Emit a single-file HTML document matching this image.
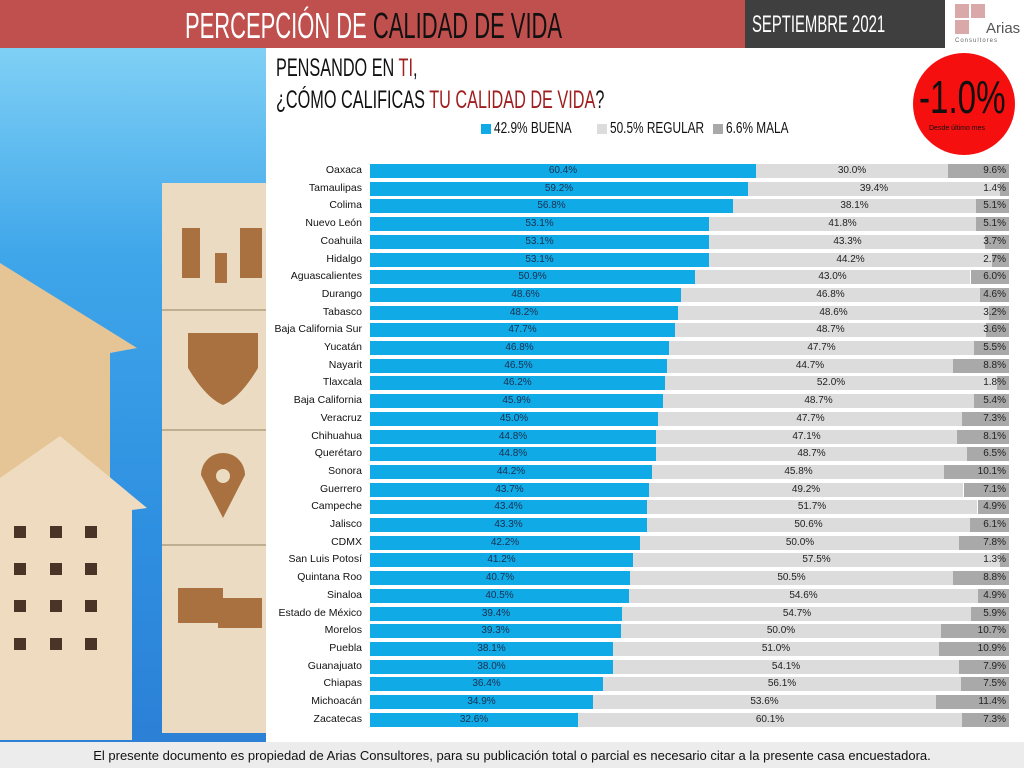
<!DOCTYPE html>
<html><head><meta charset="utf-8">
<style>
*{margin:0;padding:0;box-sizing:border-box}
body{width:1024px;height:768px;overflow:hidden;background:#fff;font-family:"Liberation Sans",sans-serif;position:relative}
.abs{position:absolute}
.narrow{font-family:"Liberation Sans Narrow","Liberation Sans",sans-serif;transform-origin:left top}
#rows{position:absolute;left:0;top:162px;width:1024px}
.r{position:relative;height:17.71px}
.r .l{position:absolute;right:662px;top:2px;font-size:10.5px;color:#111;white-space:nowrap}
.r .b{position:absolute;left:370px;top:2px;height:14px;background:#10aae6;font-size:10px;color:#1c2f4f;text-align:center;line-height:14px}
.r .g{position:absolute;top:2px;height:14px;background:#dcdcdc;font-size:10px;color:#222;text-align:center;line-height:14px}
.r .m{position:absolute;right:15px;top:2px;height:14px;background:#a9a9a9;font-size:0}
.r .mt{position:absolute;right:18px;top:2px;font-size:10px;color:#222;line-height:14px}
</style></head><body>
<div class="abs" style="left:0;top:0;width:745px;height:48px;background:#c0504d"></div>
<div class="abs" style="left:745px;top:0;width:200px;height:48px;background:#3f3f3f"></div>
<div class="abs narrow" style="left:185px;top:5px;font-size:36px;color:#fff;transform:scaleX(0.61);white-space:nowrap">PERCEPCIÓN DE <span style="color:#111">CALIDAD DE VIDA</span></div>
<div class="abs narrow" style="left:752px;top:11px;font-size:24px;color:#fff;transform:scaleX(0.62);white-space:nowrap">SEPTIEMBRE 2021</div>
<div class="abs" style="left:955px;top:4px;width:14px;height:14px;background:#d9a8a8"></div>
<div class="abs" style="left:971px;top:4px;width:14px;height:14px;background:#d9a8a8"></div>
<div class="abs" style="left:955px;top:20px;width:14px;height:14px;background:#d9a8a8"></div>
<div class="abs" style="left:986px;top:20px;font-size:15px;color:#555">Arias</div>
<div class="abs" style="left:955px;top:38px;font-size:6px;color:#666;letter-spacing:1px">Consultores</div>

<div class="abs" style="left:0;top:48px;width:266px;height:694px;background:linear-gradient(180deg,#7fd0f5 0%,#3fa6ea 30%,#2e8fe0 70%,#2c80d6 100%)"></div>
<svg class="abs" style="left:0;top:48px" width="266" height="694">
<polygon points="0,215 137,300 110,305 110,520 0,520" fill="#e5c596"/>
<polygon points="0,430 60,388 147,460 132,462 132,692 0,692" fill="#efdcc0"/>
<g fill="#4a3428">
<rect x="14" y="478" width="12" height="12"/><rect x="50" y="478" width="12" height="12"/><rect x="85" y="478" width="12" height="12"/>
<rect x="14" y="515" width="12" height="12"/><rect x="50" y="515" width="12" height="12"/><rect x="85" y="515" width="12" height="12"/>
<rect x="14" y="552" width="12" height="12"/><rect x="50" y="552" width="12" height="12"/><rect x="85" y="552" width="12" height="12"/>
<rect x="14" y="590" width="12" height="12"/><rect x="50" y="590" width="12" height="12"/><rect x="85" y="590" width="12" height="12"/>
</g>
<rect x="162" y="135" width="104" height="550" fill="#eadbc2"/>
<g stroke="#bfae92" stroke-width="2"><line x1="162" y1="262" x2="266" y2="262"/><line x1="162" y1="382" x2="266" y2="382"/><line x1="162" y1="497" x2="266" y2="497"/></g>
<g fill="#a8713f">
<rect x="182" y="180" width="18" height="50"/><rect x="240" y="180" width="22" height="50"/><rect x="215" y="205" width="12" height="30"/>
<path d="M188,285 L258,285 L258,320 Q240,350 223,357 Q206,350 188,320 Z"/>
<path d="M223,405 A22,22 0 0 1 245,427 L223,470 L201,427 A22,22 0 0 1 223,405 Z"/>
<rect x="178" y="540" width="45" height="35"/><rect x="218" y="550" width="44" height="30"/>
</g>
<circle cx="223" cy="428" r="7" fill="#eadbc2"/>
</svg>

<div class="abs narrow" style="left:276px;top:52px;font-size:25px;color:#111;transform:scaleX(0.65);white-space:nowrap;line-height:32px">PENSANDO EN <span style="color:#a01e1e">TI</span>,<br>¿CÓMO CALIFICAS <span style="color:#a01e1e">TU CALIDAD DE VIDA</span>?</div>
<div class="abs" style="left:481px;top:124px;width:10px;height:10px;background:#10aae6"></div>
<div class="abs narrow" style="left:494px;top:120px;font-size:16px;color:#111;transform:scaleX(0.74);white-space:nowrap">42.9% BUENA</div>
<div class="abs" style="left:597px;top:124px;width:10px;height:10px;background:#dcdcdc"></div>
<div class="abs narrow" style="left:610px;top:120px;font-size:16px;color:#111;transform:scaleX(0.74);white-space:nowrap">50.5% REGULAR</div>
<div class="abs" style="left:713px;top:124px;width:10px;height:10px;background:#a9a9a9"></div>
<div class="abs narrow" style="left:726px;top:120px;font-size:16px;color:#111;transform:scaleX(0.74);white-space:nowrap">6.6% MALA</div>

<div class="abs" style="left:913px;top:53px;width:102px;height:102px;border-radius:50%;background:#f50f0f"></div>
<div class="abs narrow" style="left:919px;top:74px;font-size:46px;color:#111;transform:scaleX(0.72);white-space:nowrap;line-height:46px">-1.0%</div>
<div class="abs" style="left:929px;top:125px;font-size:7px;color:#111">Desde último mes</div>

<div id="rows">
<div class="r"><span class="l">Oaxaca</span><div class="b" style="width:386px">60.4%</div><div class="g" style="left:756px;width:192px">30.0%</div><div class="m" style="width:61px"></div><span class="mt">9.6%</span></div>
<div class="r"><span class="l">Tamaulipas</span><div class="b" style="width:378px">59.2%</div><div class="g" style="left:748px;width:252px">39.4%</div><div class="m" style="width:9px"></div><span class="mt">1.4%</span></div>
<div class="r"><span class="l">Colima</span><div class="b" style="width:363px">56.8%</div><div class="g" style="left:733px;width:243px">38.1%</div><div class="m" style="width:33px"></div><span class="mt">5.1%</span></div>
<div class="r"><span class="l">Nuevo León</span><div class="b" style="width:339px">53.1%</div><div class="g" style="left:709px;width:267px">41.8%</div><div class="m" style="width:33px"></div><span class="mt">5.1%</span></div>
<div class="r"><span class="l">Coahuila</span><div class="b" style="width:339px">53.1%</div><div class="g" style="left:709px;width:277px">43.3%</div><div class="m" style="width:24px"></div><span class="mt">3.7%</span></div>
<div class="r"><span class="l">Hidalgo</span><div class="b" style="width:339px">53.1%</div><div class="g" style="left:709px;width:283px">44.2%</div><div class="m" style="width:17px"></div><span class="mt">2.7%</span></div>
<div class="r"><span class="l">Aguascalientes</span><div class="b" style="width:325px">50.9%</div><div class="g" style="left:695px;width:275px">43.0%</div><div class="m" style="width:38px"></div><span class="mt">6.0%</span></div>
<div class="r"><span class="l">Durango</span><div class="b" style="width:311px">48.6%</div><div class="g" style="left:681px;width:299px">46.8%</div><div class="m" style="width:29px"></div><span class="mt">4.6%</span></div>
<div class="r"><span class="l">Tabasco</span><div class="b" style="width:308px">48.2%</div><div class="g" style="left:678px;width:311px">48.6%</div><div class="m" style="width:20px"></div><span class="mt">3.2%</span></div>
<div class="r"><span class="l">Baja California Sur</span><div class="b" style="width:305px">47.7%</div><div class="g" style="left:675px;width:311px">48.7%</div><div class="m" style="width:23px"></div><span class="mt">3.6%</span></div>
<div class="r"><span class="l">Yucatán</span><div class="b" style="width:299px">46.8%</div><div class="g" style="left:669px;width:305px">47.7%</div><div class="m" style="width:35px"></div><span class="mt">5.5%</span></div>
<div class="r"><span class="l">Nayarit</span><div class="b" style="width:297px">46.5%</div><div class="g" style="left:667px;width:286px">44.7%</div><div class="m" style="width:56px"></div><span class="mt">8.8%</span></div>
<div class="r"><span class="l">Tlaxcala</span><div class="b" style="width:295px">46.2%</div><div class="g" style="left:665px;width:332px">52.0%</div><div class="m" style="width:12px"></div><span class="mt">1.8%</span></div>
<div class="r"><span class="l">Baja California</span><div class="b" style="width:293px">45.9%</div><div class="g" style="left:663px;width:311px">48.7%</div><div class="m" style="width:35px"></div><span class="mt">5.4%</span></div>
<div class="r"><span class="l">Veracruz</span><div class="b" style="width:288px">45.0%</div><div class="g" style="left:658px;width:305px">47.7%</div><div class="m" style="width:47px"></div><span class="mt">7.3%</span></div>
<div class="r"><span class="l">Chihuahua</span><div class="b" style="width:286px">44.8%</div><div class="g" style="left:656px;width:301px">47.1%</div><div class="m" style="width:52px"></div><span class="mt">8.1%</span></div>
<div class="r"><span class="l">Querétaro</span><div class="b" style="width:286px">44.8%</div><div class="g" style="left:656px;width:311px">48.7%</div><div class="m" style="width:42px"></div><span class="mt">6.5%</span></div>
<div class="r"><span class="l">Sonora</span><div class="b" style="width:282px">44.2%</div><div class="g" style="left:652px;width:293px">45.8%</div><div class="m" style="width:65px"></div><span class="mt">10.1%</span></div>
<div class="r"><span class="l">Guerrero</span><div class="b" style="width:279px">43.7%</div><div class="g" style="left:649px;width:314px">49.2%</div><div class="m" style="width:45px"></div><span class="mt">7.1%</span></div>
<div class="r"><span class="l">Campeche</span><div class="b" style="width:277px">43.4%</div><div class="g" style="left:647px;width:330px">51.7%</div><div class="m" style="width:31px"></div><span class="mt">4.9%</span></div>
<div class="r"><span class="l">Jalisco</span><div class="b" style="width:277px">43.3%</div><div class="g" style="left:647px;width:323px">50.6%</div><div class="m" style="width:39px"></div><span class="mt">6.1%</span></div>
<div class="r"><span class="l">CDMX</span><div class="b" style="width:270px">42.2%</div><div class="g" style="left:640px;width:320px">50.0%</div><div class="m" style="width:50px"></div><span class="mt">7.8%</span></div>
<div class="r"><span class="l">San Luis Potosí</span><div class="b" style="width:263px">41.2%</div><div class="g" style="left:633px;width:367px">57.5%</div><div class="m" style="width:9px"></div><span class="mt">1.3%</span></div>
<div class="r"><span class="l">Quintana Roo</span><div class="b" style="width:260px">40.7%</div><div class="g" style="left:630px;width:323px">50.5%</div><div class="m" style="width:56px"></div><span class="mt">8.8%</span></div>
<div class="r"><span class="l">Sinaloa</span><div class="b" style="width:259px">40.5%</div><div class="g" style="left:629px;width:349px">54.6%</div><div class="m" style="width:31px"></div><span class="mt">4.9%</span></div>
<div class="r"><span class="l">Estado de México</span><div class="b" style="width:252px">39.4%</div><div class="g" style="left:622px;width:350px">54.7%</div><div class="m" style="width:38px"></div><span class="mt">5.9%</span></div>
<div class="r"><span class="l">Morelos</span><div class="b" style="width:251px">39.3%</div><div class="g" style="left:621px;width:320px">50.0%</div><div class="m" style="width:68px"></div><span class="mt">10.7%</span></div>
<div class="r"><span class="l">Puebla</span><div class="b" style="width:243px">38.1%</div><div class="g" style="left:613px;width:326px">51.0%</div><div class="m" style="width:70px"></div><span class="mt">10.9%</span></div>
<div class="r"><span class="l">Guanajuato</span><div class="b" style="width:243px">38.0%</div><div class="g" style="left:613px;width:346px">54.1%</div><div class="m" style="width:50px"></div><span class="mt">7.9%</span></div>
<div class="r"><span class="l">Chiapas</span><div class="b" style="width:233px">36.4%</div><div class="g" style="left:603px;width:358px">56.1%</div><div class="m" style="width:48px"></div><span class="mt">7.5%</span></div>
<div class="r"><span class="l">Michoacán</span><div class="b" style="width:223px">34.9%</div><div class="g" style="left:593px;width:343px">53.6%</div><div class="m" style="width:73px"></div><span class="mt">11.4%</span></div>
<div class="r"><span class="l">Zacatecas</span><div class="b" style="width:208px">32.6%</div><div class="g" style="left:578px;width:384px">60.1%</div><div class="m" style="width:47px"></div><span class="mt">7.3%</span></div>
</div>

<div class="abs" style="left:0;top:742px;width:1024px;height:26px;background:#ececec;font-size:13px;color:#111;text-align:center;line-height:28px">El presente documento es propiedad de Arias Consultores, para su publicación total o parcial es necesario citar a la presente casa encuestadora.</div>
</body></html>
